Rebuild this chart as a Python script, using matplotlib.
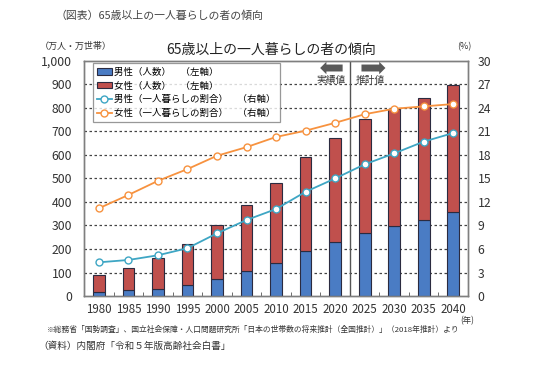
import numpy as np
import matplotlib.pyplot as plt
from matplotlib.ticker import FuncFormatter

plt.rcParams['font.family'] = ['Noto Sans CJK JP', 'DejaVu Sans']

# data (万人 / %)
years = ["1980", "1985", "1990", "1995", "2000", "2005", "2010",
         "2015", "2020", "2025", "2030", "2035", "2040"]
male_num = [19, 24, 31, 46, 74, 105, 139, 192, 231, 269, 296, 323, 356]
female_num = [69, 94, 131, 174, 229, 281, 341, 400, 441, 482, 500, 518, 540]
male_ratio = [4.3, 4.6, 5.2, 6.1, 8.0, 9.7, 11.1, 13.3, 15.0, 16.8, 18.2, 19.7, 20.8]
female_ratio = [11.2, 12.9, 14.7, 16.2, 17.9, 19.0, 20.3, 21.1, 22.1, 23.2, 23.9, 24.2, 24.5]

labels = ["男性（人数）　（左軸）", "女性（人数）　（左軸）",
          "男性（一人暮らしの割合）　（右軸）", "女性（一人暮らしの割合）　（右軸）"]

blue = "#4a7cc4"
red = "#c0504d"
teal = "#3ea6c4"
orange = "#f7923f"
edge = "#2b2b40"
txt = "#333333"

fig = plt.figure(figsize=(5.36, 3.65), dpi=100)
ax = fig.add_axes([0.157, 0.189, 0.716, 0.644])
ax2 = ax.twinx()

x = np.arange(len(years))
w = 0.4
b1 = ax.bar(x, male_num, w, color=blue, edgecolor=edge, linewidth=0.8, label=labels[0], zorder=3)
b2 = ax.bar(x, female_num, w, bottom=male_num, color=red, edgecolor=edge, linewidth=0.8,
            label=labels[1], zorder=3)

l1, = ax2.plot(x, male_ratio, color=teal, lw=1.3, marker="o", ms=5, mfc="white",
               mec=teal, mew=1.0, label=labels[2], zorder=4)
l2, = ax2.plot(x, female_ratio, color=orange, lw=1.3, marker="o", ms=5, mfc="white",
               mec=orange, mew=1.0, label=labels[3], zorder=4)

ax.set_xlim(-0.5, len(years) - 0.5)
ax.set_ylim(0, 1000)
ax2.set_ylim(0, 30)
ax.set_yticks(np.arange(0, 1001, 100))
ax2.set_yticks(np.arange(0, 31, 3))
ax.yaxis.set_major_formatter(FuncFormatter(lambda v, p: f"{int(v):,}"))
ax.set_xticks(x)
ax.set_xticklabels(years)
ax.set_xticks(np.arange(0.5, len(years) - 1, 1), minor=True)
ax.tick_params(axis="x", which="major", length=0, pad=5, labelsize=8.3, colors=txt)
ax.tick_params(axis="x", which="minor", length=3, direction="in", color="#555555")
ax.tick_params(axis="y", length=0, pad=8.5, labelsize=8.8, colors=txt)
ax2.tick_params(axis="y", length=0, pad=7, labelsize=8.8, colors=txt)

for v in range(100, 1000, 100):
    ax.axhline(v, color="#444444", lw=0.9, ls=(0, (2, 2)), zorder=1)

for a in (ax, ax2):
    for s in a.spines.values():
        s.set_color("#7f7f7f")
        s.set_linewidth(1.0)

ax.set_zorder(ax2.get_zorder() - 1)
ax.patch.set_visible(False)

# 実績値 / 推計値
ax.axvline(8.5, color="#555555", lw=1.0, zorder=5)
astyle = "simple,head_length=0.45,head_width=0.9,tail_width=0.5"
ax2.annotate("", xy=(7.4, 29.1), xytext=(8.35, 29.1),
             arrowprops=dict(arrowstyle=astyle, color="#595959", lw=0))
ax2.annotate("", xy=(9.8, 29.1), xytext=(8.8, 29.1),
             arrowprops=dict(arrowstyle=astyle, color="#595959", lw=0))
ax2.text(7.85, 27.6, "実績値", ha="center", va="center", fontsize=7, color=txt)
ax2.text(9.2, 27.6, "推計値", ha="center", va="center", fontsize=7, color=txt)

leg = ax.legend(handles=[b1, b2, l1, l2], loc="upper left", bbox_to_anchor=(0.022, 0.99),
                fontsize=6.8, frameon=True, fancybox=False, borderpad=0.45,
                labelspacing=0.5, handlelength=1.6, handletextpad=0.2, borderaxespad=0)
leg.get_frame().set_edgecolor("#7f7f7f")
leg.get_frame().set_linewidth(0.9)
leg.set_zorder(10)

fig.text(0.103, 0.958, "（図表）65歳以上の一人暮らしの者の傾向", fontsize=7.8, color="#444444",
         ha="left", va="center")
fig.text(0.505, 0.863, "65歳以上の一人暮らしの者の傾向", fontsize=10, color="#222222",
         ha="center", va="center")
fig.text(0.075, 0.872, "（万人・万世帯）", fontsize=6.5, color=txt, ha="left", va="center")
fig.text(0.852, 0.872, "(%)", fontsize=6.5, color=txt, ha="left", va="center")
fig.text(0.858, 0.121, "(年)", fontsize=6, color=txt, ha="left", va="center")
fig.text(0.088, 0.097,
         "※総務省「国勢調査」、国立社会保障・人口問題研究所「日本の世帯数の将来推計（全国推計）」（2018年推計）より",
         fontsize=5.6, color=txt, ha="left", va="center")
fig.text(0.072, 0.052, "（資料）内閣府「令和５年版高齢社会白書」", fontsize=6.9, color=txt,
         ha="left", va="center")

fig.savefig("out.png", dpi=100)
